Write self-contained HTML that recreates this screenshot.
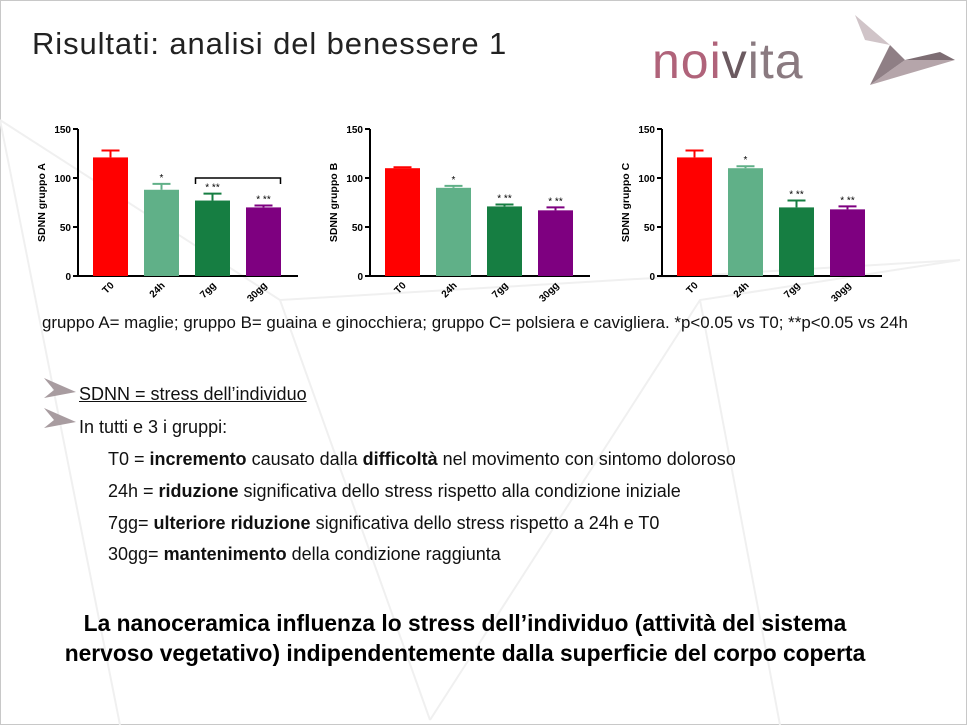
<!DOCTYPE html>
<html><head><meta charset="utf-8"><style>
html,body{margin:0;padding:0;background:#fff;}
#slide{position:relative;width:967px;height:725px;overflow:hidden;background:#fff;font-family:"Liberation Sans",sans-serif;}
.t{position:absolute;white-space:nowrap;color:#111;}
</style></head><body>
<div id="slide">
<svg width="967" height="725" style="position:absolute;left:0;top:0">
<rect x="0.5" y="0.5" width="966" height="724" fill="none" stroke="#c8c8c8"/>
<g stroke="#f0f0f0" stroke-width="2" fill="none">
<path d="M0 120 L280 300 L430 720"/><path d="M280 300 L960 260"/><path d="M430 720 L700 300 L960 260"/>
<path d="M0 120 L120 725"/><path d="M700 300 L780 725"/>
</g>
</svg>
<div class="t" style="left:32px;top:26px;font-size:31px;letter-spacing:0.9px;color:#222;">Risultati: analisi del benessere 1</div>
<div class="t" style="left:652px;top:32px;font-size:50px;letter-spacing:1px;color:#b0637a;">noi<span style="color:#6b5a60">v</span><span style="color:#8a7a80">ita</span></div>
<svg width="120" height="100" style="position:absolute;left:845px;top:10px">
<polygon points="10,5 60,50 110,50 25,75 60,50" fill="#b5a5aa"/>
<polygon points="10,5 45,35 20,30" fill="#d0c4c8"/>
<polygon points="45,35 60,50 25,75" fill="#8f7f85"/>
<polygon points="60,50 110,50 95,42" fill="#7d6d73"/>
</svg>
<svg id="charts" width="967" height="320" style="position:absolute;left:0;top:0"></svg>
<div class="t" style="left:42px;top:313px;font-size:16.9px;">gruppo A= maglie; gruppo B= guaina e ginocchiera; gruppo C= polsiera e cavigliera. *p&lt;0.05 vs T0; **p&lt;0.05 vs 24h</div>
<svg width="40" height="60" style="position:absolute;left:42px;top:376px">
<polygon points="2,2 34,16 2,22 12,14" fill="#a89ca0"/><polygon points="2,32 34,46 2,52 12,44" fill="#a89ca0"/></svg>
<div class="t" style="left:79px;top:384px;font-size:18px;text-decoration:underline;">SDNN = stress dell’individuo</div>
<div class="t" style="left:79px;top:417px;font-size:18px;">In tutti e 3 i gruppi:</div>
<div class="t" style="left:108px;top:449px;font-size:18px;">T0 = <b>incremento</b> causato dalla <b>difficoltà</b> nel movimento con sintomo doloroso</div>
<div class="t" style="left:108px;top:481px;font-size:18px;">24h = <b>riduzione</b> significativa dello stress rispetto alla condizione iniziale</div>
<div class="t" style="left:108px;top:513px;font-size:18px;">7gg= <b>ulteriore riduzione</b> significativa dello stress rispetto a 24h e T0</div>
<div class="t" style="left:108px;top:544px;font-size:18px;">30gg= <b>mantenimento</b> della condizione raggiunta</div>
<div class="t" style="left:0;width:930px;text-align:center;top:608px;font-size:22.8px;font-weight:bold;line-height:30px;color:#000;">La nanoceramica influenza lo stress dell’individuo (attività del sistema<br>nervoso vegetativo) indipendentemente dalla superficie del corpo coperta</div>
</div>
<script>
const categories=["T0","24h","7gg","30gg"];
const groupNames=["SDNN gruppo A","SDNN gruppo B","SDNN gruppo C"];
const valuesA=[121,88,77,70];
const errorsA=[7,6,7,2];
const valuesB=[110,90,71,67];
const errorsB=[1,2,2,3];
const valuesC=[121,110,70,68];
const errorsC=[7,2,7,3];
const starsAll=["","*","* **","* **"];
const yTicks=[0,50,100,150];
const colors=["#ff0000","#60b088","#167e42","#7e0080"];
const ns="http://www.w3.org/2000/svg";
const svg=document.getElementById('charts');
function mk(tag,attrs,parent){const e=document.createElementNS(ns,tag);for(const k in attrs)e.setAttribute(k,attrs[k]);(parent||svg).appendChild(e);return e;}
const sets=[[valuesA,errorsA],[valuesB,errorsB],[valuesC,errorsC]];
const offsets=[0,292,584];
sets.forEach((s,gi)=>{
  const ox=offsets[gi];
  const g=mk('g',{});
  
  
  const y=v=>276-v*0.98;
  const x0=ox+93, bw=35, step=51;
  const ax=mk('line',{x1:ox+78,y1:y(150),x2:ox+78,y2:277,stroke:'#000','stroke-width':2},g);
  
  
  const bx=mk('line',{x1:ox+77,y1:276,x2:ox+298,y2:276,stroke:'#000','stroke-width':2},g);
  
  
  yTicks.forEach(t=>{
    mk('line',{x1:ox+73,y1:y(t),x2:ox+78,y2:y(t),stroke:'#000','stroke-width':2},g);
    const tx=mk('text',{x:ox+71,y:y(t)+4,'text-anchor':'end','font-size':10,'font-weight':'bold','font-family':'Liberation Sans'},g);
    tx.textContent=t;
    
    
  });
  const yl=mk('text',{x:0,y:0,transform:`translate(${ox+45},${y(75)}) rotate(-90)`,'text-anchor':'middle','font-size':10.5,'font-weight':'bold','font-family':'Liberation Sans'},g);
  yl.textContent=groupNames[gi];
  
  
  s[0].forEach((v,i)=>{
    const bxp=x0+i*step, cx=bxp+bw/2, e=s[1][i];
    const r=mk('rect',{x:bxp,y:y(v),width:bw,height:276-y(v),fill:colors[i]},g);
    
    
    const eb=mk('path',{d:`M${cx} ${y(v)} V${y(v+e)} M${cx-9} ${y(v+e)} H${cx+9}`,stroke:colors[i],'stroke-width':2,fill:'none'},g);
    
    
    if(starsAll[i]){const st=mk('text',{x:cx,y:y(v+e)-3,'text-anchor':'middle','font-size':10,'font-family':'Liberation Sans'},g);st.textContent=starsAll[i];
      
      }
    const lb=mk('text',{x:0,y:0,transform:`translate(${cx+4},${286}) rotate(-45)`,'text-anchor':'end','font-size':10,'font-weight':'bold','font-family':'Liberation Sans'},g);
    lb.textContent=categories[i];
    
    
  });
  if(gi===0){const br=mk('path',{d:`M${x0+2*step+bw/2-17} ${y(100)+6} V${y(100)} H${x0+3*step+bw/2+17} V${y(100)+6}`,stroke:'#000','stroke-width':1.5,fill:'none'},g);
    
    }
});
</script>
</body></html>
